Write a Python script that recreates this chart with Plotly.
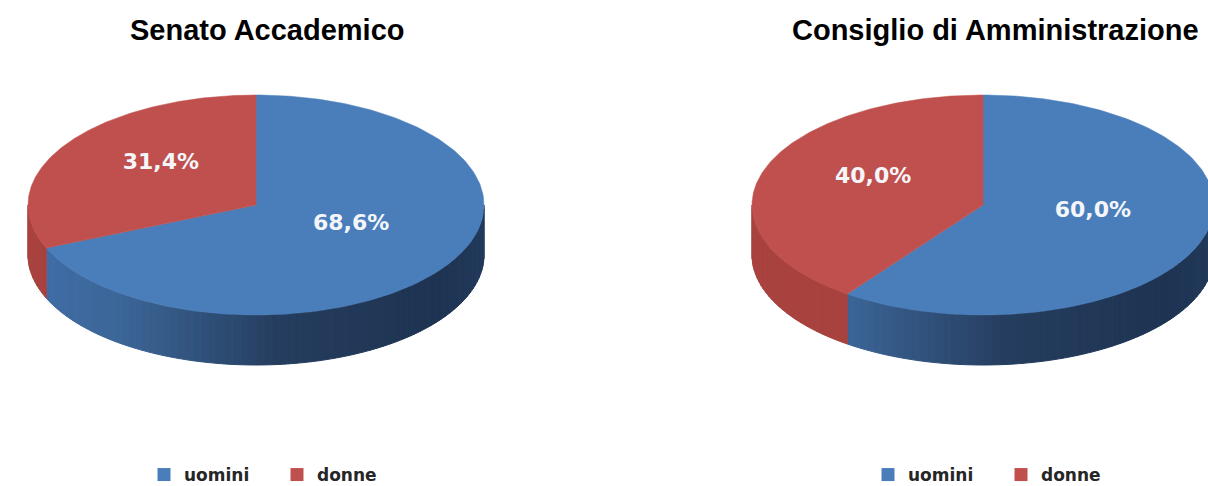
import numpy as np
import plotly.graph_objects as go

# ---------------- data ----------------
titles = ["Senato Accademico", "Consiglio di Amministrazione"]
categories = ["uomini", "donne"]
uomini_pct = [68.6, 60.0]
donne_pct = [31.4, 40.0]

# ---------------- style / layout constants ----------------
W, H = 1208, 486
centers = [(256, 205), (983, 205)]
radii_x = [228, 231]
radius_y = 110
depth = 50
title_x = [128, 790]
title_y = 30
label_lift = 11
top_colors = {"uomini": "#4a7ebb", "donne": "#c0504d"}
side_red = (168, 66, 62)
blue_stops = [(0.0, (64, 110, 168)), (0.2, (60, 102, 152)), (0.55, (37, 61, 94)),
              (0.9, (30, 51, 82)), (1.0, (34, 57, 90))]


def lerp_color(t):
    for (t0, c0), (t1, c1) in zip(blue_stops[:-1], blue_stops[1:]):
        if t <= t1:
            f = 0 if t1 == t0 else (t - t0) / (t1 - t0)
            c = [round(a + (b - a) * f) for a, b in zip(c0, c1)]
            return "rgb(%d,%d,%d)" % tuple(c)
    return "rgb(%d,%d,%d)" % blue_stops[-1][1]


def ell(cx, cy, rx, ry, th_deg):
    th = np.radians(th_deg)
    return cx + rx * np.sin(th), cy - ry * np.cos(th)


fig = go.Figure()

for i in range(2):
    cx, cy = centers[i]
    rx = radii_x[i]
    shares = {"uomini": uomini_pct[i], "donne": donne_pct[i]}
    split = 360.0 * shares["uomini"] / 100.0

    # ---- side wall (front half only, angles 90..270) ----
    brk = list(np.linspace(90, 270, 91))
    if 90 < split < 270:
        brk.append(split)
    brk = sorted(set(brk))
    for a, b in zip(brk[:-1], brk[1:]):
        ths = np.linspace(a, b, 4)
        xs, ys = ell(cx, cy, rx, radius_y, ths)
        px = np.concatenate([xs, xs[::-1], xs[:1]])
        py = np.concatenate([ys, ys[::-1] + depth, ys[:1]])
        mid = (a + b) / 2
        if mid < split:
            t = (np.mean(xs) - (cx - rx)) / (2 * rx)
            col = lerp_color(t)
        else:
            col = "rgb(%d,%d,%d)" % side_red
        fig.add_trace(go.Scatter(x=px, y=py, mode="lines", fill="toself",
                                 fillcolor=col, line=dict(color=col, width=1),
                                 hoverinfo="skip", showlegend=False))

    # ---- top faces ----
    start = 0.0
    for cat in categories:
        span = 360.0 * shares[cat] / 100.0
        ths = np.linspace(start, start + span, 200)
        xs, ys = ell(cx, cy, rx, radius_y, ths)
        px = np.concatenate([[cx], xs, [cx]])
        py = np.concatenate([[cy], ys, [cy]])
        fig.add_trace(go.Scatter(x=px, y=py, mode="lines", fill="toself",
                                 fillcolor=top_colors[cat],
                                 line=dict(color=top_colors[cat], width=0.5),
                                 hoverinfo="skip", showlegend=False))
        # label
        mid = start + span / 2
        lx, ly = ell(cx, cy, rx * 0.5, radius_y * 0.5, mid)
        txt = ("%.1f" % shares[cat]).replace(".", ",") + "%"
        fig.add_trace(go.Scatter(x=[lx], y=[ly - label_lift], mode="text", text=[txt],
                                 textfont=dict(color="#f4f6fa", size=22,
                                               family="DejaVu Sans", weight="bold"),
                                 hoverinfo="skip", showlegend=False))
        start += span

    # ---- title ----
    fig.add_annotation(x=title_x[i], y=title_y, xref="x", yref="y",
                       text="<b>%s</b>" % titles[i], showarrow=False,
                       xanchor="left", yanchor="middle",
                       font=dict(size=29, color="black", family="Liberation Sans"))

    # ---- legend entries ----
    lg = "legend" if i == 0 else "legend2"
    for cat in categories:
        fig.add_trace(go.Scatter(x=[None], y=[None], mode="markers", name=cat,
                                 marker=dict(symbol="square", size=13,
                                             color=top_colors[cat]),
                                 legend=lg, showlegend=True))

leg_common = dict(orientation="h", yanchor="middle", y=1 - 475 / H,
                  xanchor="left", entrywidth=88, entrywidthmode="pixels",
                  font=dict(size=17, color="#262626", family="DejaVu Sans",
                            weight="bold"),
                  bgcolor="rgba(0,0,0,0)")

fig.update_layout(
    width=W, height=H,
    margin=dict(l=0, r=0, t=0, b=0, autoexpand=False),
    paper_bgcolor="white", plot_bgcolor="white",
    xaxis=dict(range=[0, W], visible=False, fixedrange=True),
    yaxis=dict(range=[H, 0], visible=False, fixedrange=True),
    legend=dict(x=(166 - 22) / W, **leg_common),
    legend2=dict(x=(890 - 22) / W, **leg_common),
    showlegend=True,
)

fig.write_html(
    "out.html",
    post_script=("document.documentElement.style.overflow='hidden';"
                 "document.body.style.margin='0';"
                 "document.body.style.overflow='hidden';"),
)
